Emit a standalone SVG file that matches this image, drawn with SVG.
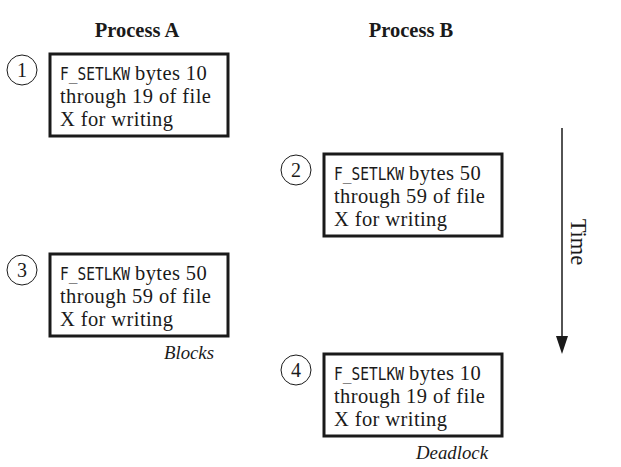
<svg xmlns="http://www.w3.org/2000/svg" width="621" height="467" viewBox="0 0 621 467">
<defs>
<style>
.t{font-family:"Liberation Serif","Times New Roman",serif;font-size:20.5px;letter-spacing:0.4px;fill:#1a1a1a}
.m{font-family:"DejaVu Sans Mono","Liberation Mono",monospace;font-size:17.5px;fill:#1a1a1a}
.h{font-family:"Liberation Serif",serif;font-size:20.5px;font-weight:bold;fill:#1a1a1a;text-anchor:middle}
.i{font-family:"Liberation Serif",serif;font-size:18.8px;font-style:italic;fill:#1a1a1a;text-anchor:end}
.box{fill:#fff;stroke:#1a1a1a;stroke-width:3}
.c{fill:#fff;stroke:#1a1a1a;stroke-width:1}
.n{font-family:"Liberation Serif",serif;font-size:20px;fill:#1a1a1a;text-anchor:middle}
</style>
</defs>
<text class="h" x="137" y="37">Process A</text>
<text class="h" x="411" y="37">Process B</text>
<g id="connectors">
<line x1="562" y1="128" x2="562" y2="340" stroke="#1a1a1a" stroke-width="1.5"/>
<path d="M556,336 L568,336 L562,354 Z" fill="#1a1a1a"/>
</g>
<text class="t" style="font-size:22.5px;letter-spacing:0" transform="translate(571,242) rotate(90)" text-anchor="middle">Time</text>
<g id="step1">
<circle class="c" cx="22" cy="70" r="15"/>
<text class="n" x="22" y="77">1</text>
<rect class="box" x="50" y="54" width="178" height="82"/>
<text class="m" transform="translate(60,80) scale(0.83,1)">F_SETLKW</text>
<text class="t" x="135" y="80">bytes 10</text>
<text class="t" x="60" y="103">through 19 of file</text>
<text class="t" x="60" y="126">X for writing</text>
</g>
<g id="step2">
<circle class="c" cx="296" cy="170" r="15"/>
<text class="n" x="296" y="177">2</text>
<rect class="box" x="324" y="154" width="178" height="82"/>
<text class="m" transform="translate(334,180) scale(0.83,1)">F_SETLKW</text>
<text class="t" x="409" y="180">bytes 50</text>
<text class="t" x="334" y="203">through 59 of file</text>
<text class="t" x="334" y="226">X for writing</text>
</g>
<g id="step3">
<circle class="c" cx="22" cy="270" r="15"/>
<text class="n" x="22" y="277">3</text>
<rect class="box" x="50" y="254" width="178" height="82"/>
<text class="m" transform="translate(60,280) scale(0.83,1)">F_SETLKW</text>
<text class="t" x="135" y="280">bytes 50</text>
<text class="t" x="60" y="303">through 59 of file</text>
<text class="t" x="60" y="326">X for writing</text>
<text class="i" x="214" y="359">Blocks</text>
</g>
<g id="step4">
<circle class="c" cx="296" cy="370" r="15"/>
<text class="n" x="296" y="377">4</text>
<rect class="box" x="324" y="354" width="178" height="82"/>
<text class="m" transform="translate(334,380) scale(0.83,1)">F_SETLKW</text>
<text class="t" x="409" y="380">bytes 10</text>
<text class="t" x="334" y="403">through 19 of file</text>
<text class="t" x="334" y="426">X for writing</text>
<text class="i" x="488" y="459">Deadlock</text>
</g>
</svg>
